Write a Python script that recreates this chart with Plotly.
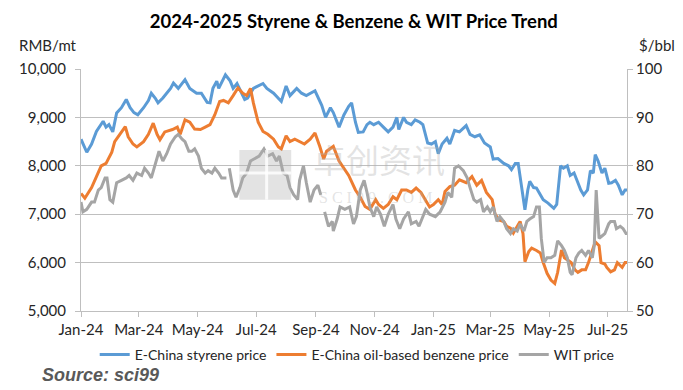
import plotly.graph_objects as go

# ---------------- data ----------------
styrene_dates = ["2024-01-01","2024-01-07","2024-01-12","2024-01-17","2024-01-24","2024-01-27","2024-01-30",
"2024-02-03","2024-02-07","2024-02-12","2024-02-17","2024-02-21","2024-02-25","2024-02-29",
"2024-03-06","2024-03-11","2024-03-14","2024-03-18","2024-03-21","2024-03-26",
"2024-04-03","2024-04-06","2024-04-11","2024-04-18","2024-04-23","2024-04-30",
"2024-05-05","2024-05-11","2024-05-14","2024-05-17","2024-05-21","2024-05-23","2024-05-30",
"2024-06-04","2024-06-07","2024-06-11","2024-06-19","2024-06-22","2024-06-28",
"2024-07-03","2024-07-08","2024-07-12","2024-07-19","2024-07-27",
"2024-08-01","2024-08-05","2024-08-12","2024-08-17","2024-08-22","2024-08-31",
"2024-09-05","2024-09-07","2024-09-11","2024-09-16","2024-09-19","2024-09-25","2024-09-30",
"2024-10-05","2024-10-08","2024-10-12","2024-10-15","2024-10-20","2024-10-24","2024-10-27","2024-10-31",
"2024-11-05","2024-11-10","2024-11-15","2024-11-20","2024-11-24","2024-11-26",
"2024-12-01","2024-12-04","2024-12-09","2024-12-13","2024-12-18","2024-12-21","2024-12-26","2024-12-30",
"2025-01-03","2025-01-06","2025-01-10","2025-01-15","2025-01-18","2025-01-23","2025-01-28",
"2025-02-04","2025-02-08","2025-02-13","2025-02-18","2025-02-23",
"2025-03-01","2025-03-04","2025-03-09","2025-03-15","2025-03-20","2025-03-23","2025-03-27","2025-03-30",
"2025-04-03","2025-04-06","2025-04-09","2025-04-11","2025-04-15","2025-04-18","2025-04-22","2025-04-25","2025-04-30",
"2025-05-06","2025-05-09","2025-05-13","2025-05-16","2025-05-20","2025-05-23","2025-05-27","2025-05-30",
"2025-06-03","2025-06-06","2025-06-10","2025-06-13","2025-06-16","2025-06-18","2025-06-21","2025-06-25","2025-06-28",
"2025-07-02","2025-07-05","2025-07-09","2025-07-12","2025-07-16","2025-07-19","2025-07-21"]
styrene_price = [8550,8280,8450,8710,8920,8800,8850,
8700,9090,9200,9370,9200,9100,9055,
9200,9350,9500,9400,9300,9400,
9600,9710,9600,9780,9600,9500,
9500,9310,9300,9600,9750,9600,9880,
9750,9600,9700,9370,9400,9600,
9650,9700,9600,9500,9330,
9650,9450,9600,9500,9450,9550,
9350,9250,9000,9200,9100,8800,9050,
9230,9300,8900,8690,8700,8850,8900,8850,
8900,8800,8700,8800,9000,8750,
9000,8900,8850,8950,8900,8850,8470,8450,
8500,8250,8450,8570,8450,8730,8700,
8830,8650,8600,8640,8470,
8390,8140,8150,8050,8000,7920,8050,8050,
7500,7090,7500,7680,7550,7540,7400,7300,7230,
7120,7200,8000,7950,8000,7800,7850,7700,
7500,7400,7500,7900,7850,8230,8100,7850,7950,
7640,7650,7700,7600,7400,7500,7500]

benzene_dates = ["2024-01-01","2024-01-05","2024-01-12","2024-01-17","2024-01-22","2024-01-27",
"2024-02-02","2024-02-05","2024-02-10","2024-02-16","2024-02-19","2024-02-24","2024-02-28",
"2024-03-06","2024-03-11","2024-03-16","2024-03-20","2024-03-23","2024-03-28",
"2024-04-05","2024-04-10","2024-04-13","2024-04-18","2024-04-23","2024-04-28",
"2024-05-04","2024-05-09","2024-05-14","2024-05-19","2024-05-24","2024-05-28",
"2024-06-02","2024-06-07","2024-06-12","2024-06-17","2024-06-21","2024-06-25","2024-06-28",
"2024-07-03","2024-07-08","2024-07-13","2024-07-19","2024-07-24","2024-07-27",
"2024-08-01","2024-08-05","2024-08-10","2024-08-15","2024-08-20","2024-08-26","2024-08-31",
"2024-09-05","2024-09-09","2024-09-12","2024-09-19","2024-09-25","2024-09-30",
"2024-10-05","2024-10-12","2024-10-17","2024-10-22","2024-10-27",
"2024-11-02","2024-11-05","2024-11-10","2024-11-15","2024-11-20","2024-11-24","2024-11-29",
"2024-12-04","2024-12-09","2024-12-14","2024-12-19","2024-12-25","2024-12-28",
"2025-01-01","2025-01-06","2025-01-10","2025-01-13","2025-01-18","2025-01-23","2025-01-28",
"2025-02-04","2025-02-10","2025-02-15","2025-02-20","2025-02-25",
"2025-03-03","2025-03-06","2025-03-10","2025-03-15","2025-03-18","2025-03-22","2025-03-25","2025-03-29",
"2025-04-01","2025-04-04","2025-04-06","2025-04-10","2025-04-13","2025-04-18","2025-04-22","2025-04-25","2025-04-29",
"2025-05-03","2025-05-07","2025-05-10","2025-05-14","2025-05-17","2025-05-21","2025-05-24","2025-05-28","2025-05-31",
"2025-06-04","2025-06-08","2025-06-11","2025-06-15","2025-06-18","2025-06-22","2025-06-24","2025-06-28","2025-06-30",
"2025-07-04","2025-07-08","2025-07-11","2025-07-16","2025-07-19","2025-07-21"]
benzene_price = [7430,7330,7550,7780,8000,8050,
8280,8500,8650,8810,8600,8450,8390,
8500,8650,8880,8650,8540,8700,
8750,8800,8650,8950,8900,8760,
8750,8800,8850,9055,9330,9350,
9300,9450,9610,9500,9450,9600,9300,
8900,8710,8650,8550,8390,8350,
8620,8500,8550,8500,8450,8550,8680,
8400,8140,8300,8400,8100,7950,
7800,7500,7350,7160,7100,
7300,7200,7120,7200,7360,7300,7500,
7500,7450,7540,7450,7230,7150,
7200,7300,7200,7470,7570,7600,7710,
7650,7780,7600,7700,7450,
7300,7000,6880,6850,6750,6710,6610,6750,
6850,6600,6020,6230,6300,6250,6200,6000,5780,
5640,5570,5800,6260,6100,6050,6000,5850,5800,
5850,5850,6000,6230,6430,6350,6000,5970,5900,
5810,5850,6000,5900,6000,6000]

wti_dates = ["2024-01-01","2024-01-03","2024-01-07","2024-01-12","2024-01-15","2024-01-19","2024-01-22","2024-01-26","2024-01-28","2024-01-31",
"2024-02-03","2024-02-07","2024-02-12","2024-02-17","2024-02-20","2024-02-24","2024-02-28",
"2024-03-04","2024-03-07","2024-03-11","2024-03-14","2024-03-18","2024-03-22","2024-03-26","2024-03-30",
"2024-04-03","2024-04-08","2024-04-11","2024-04-15","2024-04-18","2024-04-22","2024-04-25","2024-04-28",
"2024-05-02","2024-05-05","2024-05-09","2024-05-12","2024-05-16","2024-05-19","2024-05-23","2024-05-26","2024-05-31",
"2024-06-01",
"2024-06-03","2024-06-07","2024-06-10","2024-06-14","2024-06-17","2024-06-21","2024-06-25","2024-06-30",
"2024-07-04","2024-07-09","2024-07-13","2024-07-18","2024-07-22","2024-07-25","2024-07-29",
"2024-08-02","2024-08-05","2024-08-09","2024-08-13","2024-08-15","2024-08-19","2024-08-22","2024-08-26","2024-08-30",
"2024-09-03","2024-09-06",
"2024-09-08",
"2024-09-10","2024-09-14","2024-09-18","2024-09-19","2024-09-23","2024-09-26",
"2024-10-01","2024-10-06","2024-10-10","2024-10-13","2024-10-17","2024-10-21","2024-10-24","2024-10-27","2024-10-31",
"2024-11-03","2024-11-07","2024-11-11","2024-11-15","2024-11-20","2024-11-23","2024-11-27",
"2024-12-01","2024-12-06","2024-12-09","2024-12-14","2024-12-17","2024-12-21","2024-12-24","2024-12-28",
"2025-01-03","2025-01-08","2025-01-13","2025-01-16","2025-01-20","2025-01-23","2025-01-27",
"2025-02-01","2025-02-05","2025-02-08","2025-02-12","2025-02-15","2025-02-19","2025-02-22","2025-02-26",
"2025-03-01","2025-03-04","2025-03-08","2025-03-11","2025-03-15","2025-03-18","2025-03-22","2025-03-25","2025-03-29",
"2025-04-01","2025-04-05","2025-04-08","2025-04-11","2025-04-15","2025-04-18","2025-04-21","2025-04-23","2025-04-26","2025-04-29",
"2025-05-03","2025-05-07","2025-05-10","2025-05-14","2025-05-17","2025-05-20","2025-05-23","2025-05-25","2025-05-29",
"2025-06-01","2025-06-04","2025-06-08","2025-06-11","2025-06-15","2025-06-17","2025-06-19","2025-06-22","2025-06-25","2025-06-28",
"2025-07-02","2025-07-04","2025-07-08","2025-07-10","2025-07-14","2025-07-17","2025-07-20","2025-07-21"]
wti_price = [72.5,70.5,71.0,72.5,72.5,75.0,75.5,77.5,77.5,73.0,
72.5,76.5,77.0,77.5,78.0,77.0,78.5,
78.0,79.5,78.5,77.5,80.0,83.0,81.0,82.5,
84.5,86.0,86.5,85.5,85.0,83.0,83.0,83.5,
82.0,79.5,78.5,79.0,78.5,79.5,78.5,77.5,77.5,
None,
79.5,75.0,73.5,75.5,77.5,78.5,81.0,81.5,
82.0,83.5,82.0,82.5,81.0,82.0,78.5,
78.0,75.5,74.0,73.0,77.0,80.0,76.5,72.5,75.0,
76.0,74.0,
None,
70.5,67.5,68.5,66.5,69.0,71.5,
71.0,71.5,68.0,69.5,75.0,77.0,74.5,71.5,69.5,
71.5,70.0,67.5,70.0,72.0,69.0,67.0,
69.0,70.5,68.0,68.5,67.5,69.5,71.0,70.0,
69.5,70.5,72.5,74.5,73.5,79.5,80.0,
79.0,77.5,75.5,73.0,72.5,73.0,70.5,71.5,
70.5,71.5,68.5,69.5,68.5,67.0,66.0,67.0,66.5,
68.0,66.5,68.5,69.0,69.5,71.5,71.5,65.0,60.0,61.0,
61.0,61.5,64.5,63.5,62.5,61.0,58.0,57.5,61.0,
62.0,62.5,61.5,62.5,61.0,63.5,75.0,65.0,65.5,66.0,
68.0,68.5,68.5,67.0,67.5,67.0,66.0,66.0]

x_tick_dates = ["2024-01-01","2024-03-01","2024-05-01","2024-07-01","2024-09-01","2024-11-01",
                "2025-01-01","2025-03-01","2025-05-01","2025-07-01"]
x_tick_labels = ["Jan-24","Mar-24","May-24","Jul-24","Sep-24","Nov-24","Jan-25","Mar-25","May-25","Jul-25"]

series_names = ["E-China styrene price", "E-China oil-based benzene price", "WIT price"]
series_colors = ["#5B9BD5", "#ED7D31", "#A5A5A5"]

# ---------------- figure ----------------
FONT = "Lato"
TXT = "#262626"
GRID = "#BFBFBF"
WM = "rgba(175,175,175,0.35)"

fig = go.Figure()
fig.add_trace(go.Scatter(x=styrene_dates, y=styrene_price, name=series_names[0], mode="lines",
                         line=dict(color=series_colors[0], width=3)))
fig.add_trace(go.Scatter(x=benzene_dates, y=benzene_price, name=series_names[1], mode="lines",
                         line=dict(color=series_colors[1], width=3)))
fig.add_trace(go.Scatter(x=wti_dates, y=wti_price, name=series_names[2], mode="lines",
                         line=dict(color=series_colors[2], width=3), yaxis="y2", connectgaps=False))

fig.update_layout(
    width=683, height=390,
    margin=dict(l=81, r=56, t=69, b=79, autoexpand=False),
    paper_bgcolor="white", plot_bgcolor="white",
    font=dict(family=FONT, size=13, color=TXT),
    title=dict(text="<b>2024-2025 Styrene & Benzene & WIT Price Trend</b>",
               x=0.518, xanchor="center", xref="container", y=0.945, yanchor="middle",
               font=dict(family=FONT, size=18.5, color="#000000")),
    showlegend=True,
    legend=dict(orientation="h", x=0.523, xanchor="center", xref="container",
                y=0.09, yanchor="middle", yref="container",
                font=dict(family=FONT, size=14, color=TXT),
                itemwidth=30, tracegroupgap=0, bgcolor="rgba(0,0,0,0)"),
    xaxis=dict(type="date", range=["2024-01-01", "2025-07-21"],
               tickmode="array", tickvals=x_tick_dates, ticktext=x_tick_labels, tickangle=0,
               showgrid=False, showline=True, linecolor=GRID, linewidth=1,
               ticks="outside", ticklen=5, tickcolor=GRID,
               tickfont=dict(family=FONT, size=15, color=TXT), zeroline=False),
    yaxis=dict(range=[5000, 10000], dtick=1000, tickformat=",",
               showgrid=True, gridcolor=GRID, gridwidth=1,
               showline=True, linecolor=GRID, linewidth=1,
               ticks="outside", ticklen=5, tickcolor=GRID, ticklabelstandoff=6,
               tickfont=dict(family=FONT, size=15, color=TXT), zeroline=False),
    yaxis2=dict(range=[50, 100], dtick=10, overlaying="y", side="right",
                showgrid=False, showline=True, linecolor=GRID, linewidth=1,
                ticks="outside", ticklen=5, tickcolor=GRID,
                tickfont=dict(family=FONT, size=15, color=TXT), zeroline=False),
)

# axis unit labels, source and watermark
fig.add_annotation(text="RMB/mt", xref="paper", yref="paper", x=-0.118, y=1.1,
                   xanchor="left", yanchor="middle", showarrow=False,
                   font=dict(family=FONT, size=15, color=TXT))
fig.add_annotation(text="$/bbl", xref="paper", yref="paper", x=1.092, y=1.1,
                   xanchor="right", yanchor="middle", showarrow=False,
                   font=dict(family=FONT, size=15, color=TXT))
fig.add_annotation(text="<b><i>Source: sci99</i></b>", xref="paper", yref="paper", x=-0.075, y=-0.265,
                   xanchor="left", yanchor="middle", showarrow=False,
                   font=dict(family="Liberation Sans", size=18, color="#595959"))
fig.add_annotation(text="卓创资讯", xref="paper", yref="paper", x=0.545, y=0.63,
                   xanchor="center", yanchor="middle", showarrow=False,
                   font=dict(family="Noto Sans CJK SC", size=33, color=WM))
fig.add_annotation(text="S C I 9 9 . C O M", xref="paper", yref="paper", x=0.54, y=0.47,
                   xanchor="center", yanchor="middle", showarrow=False,
                   font=dict(family="Liberation Serif", size=16, color=WM))
# watermark logo block
fig.add_shape(type="rect", xref="paper", yref="paper", x0=0.29, x1=0.385, y0=0.46, y1=0.665,
              fillcolor=WM, line=dict(width=0), layer="above")
fig.add_shape(type="line", xref="paper", yref="paper", x0=0.29, x1=0.385, y0=0.57, y1=0.57,
              line=dict(color="rgba(255,255,255,0.8)", width=3), layer="above")
fig.add_shape(type="line", xref="paper", yref="paper", x0=0.34, x1=0.34, y0=0.46, y1=0.665,
              line=dict(color="rgba(255,255,255,0.8)", width=3), layer="above")

fig.write_html("out.html", config={"displayModeBar": False},
               post_script="document.body.style.margin='0';")
